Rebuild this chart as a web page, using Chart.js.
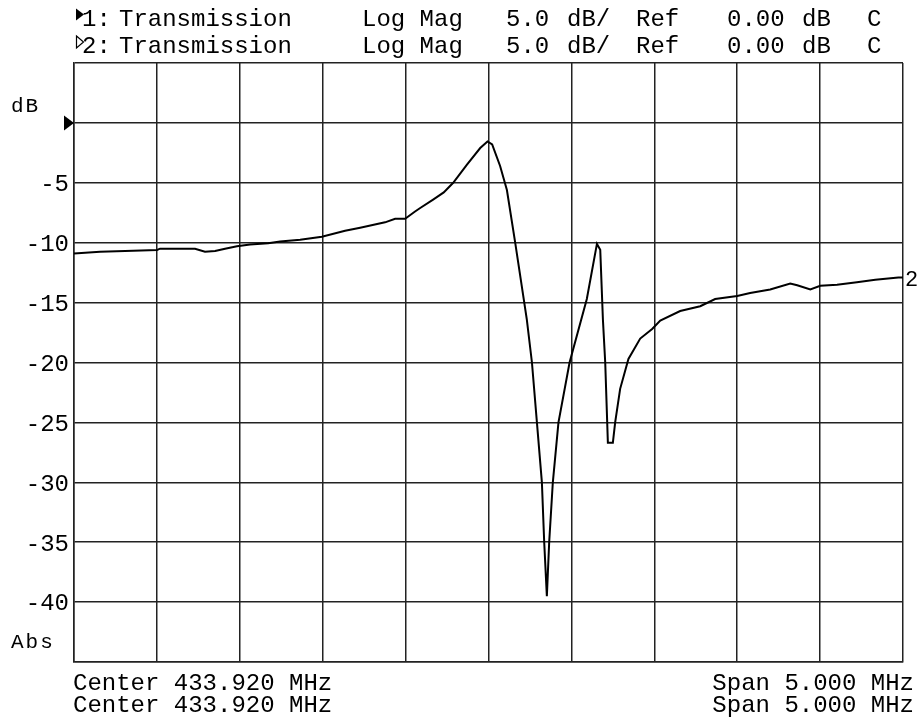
<!DOCTYPE html>
<html>
<head>
<meta charset="utf-8">
<script src="https://cdn.jsdelivr.net/npm/chart.js@4.4.1/dist/chart.umd.min.js"></script>
<style>
  body { margin: 0; background: #fff; }
  canvas { display: block; }
</style>
</head>
<body>
<canvas id="grafico-transmissao" width="918" height="725"></canvas>
<script>
// Transmission trace
const freqMHz = [431.420, 431.577, 431.728, 431.921, 431.939, 432.150, 432.210, 432.271, 432.331, 432.403,
                 432.482, 432.591, 432.663, 432.784, 432.915, 433.055, 433.146, 433.296, 433.357, 433.417,
                 433.477, 433.508, 433.586, 433.650, 433.707, 433.789, 433.870, 433.914, 433.942, 433.990, 434.031,
                 434.081, 434.151, 434.182, 434.212, 434.242, 434.256, 434.272, 434.286, 434.308, 434.342,
                 434.409, 434.513, 434.574, 434.594, 434.610, 434.624, 434.640, 434.670, 434.684, 434.714,
                 434.764, 434.835, 434.907, 434.956, 435.076, 435.197, 435.287, 435.420, 435.498, 435.619,
                 435.740, 435.782, 435.861, 435.921, 436.022, 436.142, 436.253, 436.392, 436.420];
const transDb = [-10.9, -10.75, -10.7, -10.6, -10.5, -10.5, -10.75, -10.7, -10.5, -10.3,
                 -10.15, -10.05, -9.9, -9.75, -9.5, -9.0, -8.75, -8.3, -8.0, -8.0,
                 -7.4, -7.1, -6.4, -5.8, -5.0, -3.5, -2.1, -1.55, -1.8, -3.6, -5.6,
                 -10.0, -16.4, -20, -25, -30, -35, -39.5, -35, -30, -25,
                 -20, -14.7, -10.1, -10.6, -16.4, -20, -26.7, -26.7, -25, -22.2,
                 -19.7, -18, -17.2, -16.5, -15.7, -15.3, -14.7, -14.45, -14.2, -13.9,
                 -13.4, -13.55, -13.9, -13.6, -13.5, -13.3, -13.1, -12.9, -12.9];

// grid: 10 divisions each way
const xTicks = [431.42, 431.92, 432.42, 432.92, 433.42, 433.92, 434.42, 434.92, 435.42, 435.92, 436.42];
const yTicks = [5, 0, -5, -10, -15, -20, -25, -30, -35, -40, -45];
const yLabelValues = [-5, -10, -15, -20, -25, -30, -35, -40];
const yLabelTexts = ['-5', '-10', '-15', '-20', '-25', '-30', '-35', '-40'];
const refLevel = 0;

const FONT = '"Liberation Mono", "DejaVu Sans Mono", monospace';

const textoPlugin = {
    id: 'textoTela',
    afterDraw(chart) {
        const c = chart.ctx;
        const area = chart.chartArea;
        const ys = chart.scales.y;
        c.save();
        c.fillStyle = '#000';

        // header lines
        c.font = '24px ' + FONT;
        c.textAlign = 'left';
        c.textBaseline = 'alphabetic';
        [26, 53].forEach(function(base, i) {
            c.fillText((i + 1) + ':', 82, base);
            c.fillText('Transmission', 119, base);
            c.fillText('Log Mag', 362, base);
            c.fillText('5.0', 506, base);
            c.fillText('dB/', 567, base);
            c.fillText('Ref', 636, base);
            c.fillText('0.00', 727, base);
            c.fillText('dB', 802, base);
            c.fillText('C', 867, base);
        });
        // trace markers in header
        c.lineWidth = 1.2;
        c.strokeStyle = '#000';
        c.beginPath(); c.moveTo(76, 8.5); c.lineTo(84, 14.5); c.lineTo(76, 20.5); c.closePath(); c.fill();
        c.beginPath(); c.moveTo(76.5, 36); c.lineTo(83.5, 42); c.lineTo(76.5, 48); c.closePath(); c.stroke();

        // y labels
        c.textAlign = 'right';
        c.textBaseline = 'middle';
        yLabelValues.forEach(function(v, i) {
            c.fillText(yLabelTexts[i], area.left - 5, ys.getPixelForValue(v) + 2);
        });
        c.font = '21px ' + FONT;
        c.textAlign = 'left';
        c.letterSpacing = '2px';
        c.fillText('dB', 11, 106);
        c.fillText('Abs', 11, 642);
        c.letterSpacing = '0px';

        // reference level marker
        const y0 = ys.getPixelForValue(refLevel);
        c.beginPath(); c.moveTo(area.left - 10, y0 - 7.5); c.lineTo(area.left, y0); c.lineTo(area.left - 10, y0 + 7.5); c.closePath(); c.fill();

        // trace end marker
        c.font = '22px ' + FONT;
        c.fillText('2', area.right + 2, ys.getPixelForValue(transDb[transDb.length - 1]) + 3);

        // footer
        c.font = '24px ' + FONT;
        c.textBaseline = 'alphabetic';
        c.fillText('Center 433.920 MHz', 73, 690);
        c.fillText('Center 433.920 MHz', 73, 712);
        c.textAlign = 'right';
        c.fillText('Span 5.000 MHz', 914, 690);
        c.fillText('Span 5.000 MHz', 914, 712);
        c.restore();
    }
};

const gradeCfg = { color: '#222', lineWidth: 1.5, drawTicks: false };
const bordaCfg = { color: '#222', width: 1.5 };

const ctx = document.getElementById('grafico-transmissao').getContext('2d');
const chart = new Chart(ctx, {
    type: 'line',
    data: {
        datasets: [{
            label: 'Transmission',
            data: freqMHz.map(function(f, i) { return { x: f, y: transDb[i] }; }),
            borderColor: '#000',
            borderWidth: 2,
            pointRadius: 0,
            tension: 0,
            fill: false
        }]
    },
    options: {
        responsive: false,
        animation: false,
        layout: { padding: { left: 74, right: 15, top: 63, bottom: 63 } },
        plugins: {
            legend: { display: false },
            tooltip: { enabled: false }
        },
        scales: {
            x: {
                type: 'linear',
                min: xTicks[0],
                max: xTicks[xTicks.length - 1],
                afterBuildTicks: function(scale) {
                    scale.ticks = xTicks.map(function(v) { return { value: v }; });
                },
                ticks: { display: false },
                grid: gradeCfg,
                border: bordaCfg
            },
            y: {
                min: yTicks[yTicks.length - 1],
                max: yTicks[0],
                afterBuildTicks: function(scale) {
                    scale.ticks = yTicks.map(function(v) { return { value: v }; });
                },
                ticks: { display: false },
                grid: gradeCfg,
                border: bordaCfg
            }
        }
    },
    plugins: [textoPlugin]
});
</script>
</body>
</html>
